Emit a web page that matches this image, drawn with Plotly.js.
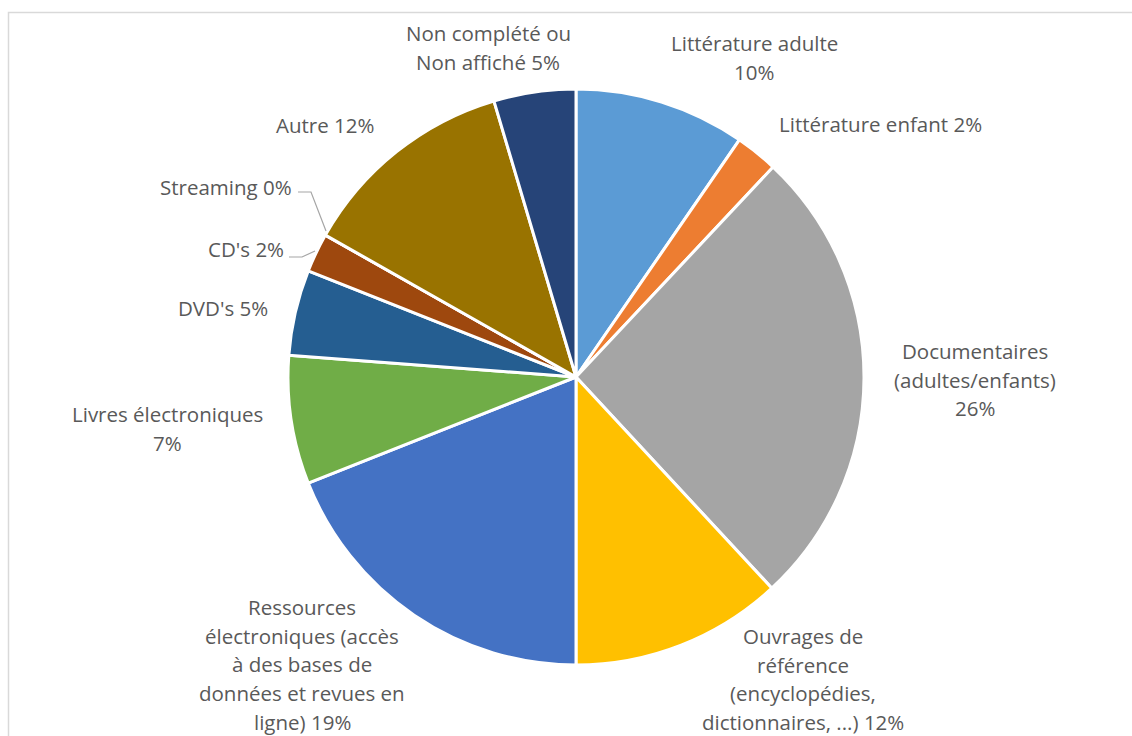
<!DOCTYPE html>
<html>
<head>
<meta charset="utf-8">
<script src="https://cdn.plot.ly/plotly-3.0.1.min.js"></script>
<style>html,body{margin:0;padding:0;background:#fff;}#chart{width:1132px;height:736px;}</style>
</head>
<body>
<div id="chart"></div>
<script>
// ---- data ----
var categories = [
  "Littérature adulte",
  "Littérature enfant",
  "Documentaires<br>(adultes/enfants)",
  "Ouvrages de<br>référence<br>(encyclopédies,<br>dictionnaires, ...)",
  "Ressources<br>électroniques (accès<br>à des bases de<br>données et revues en<br>ligne)",
  "Livres électroniques",
  "DVD's",
  "CD's",
  "Streaming",
  "Autre",
  "Non complété ou<br>Non affiché"
];
var values = [9.6, 2.4, 26.1, 11.9, 19.0, 7.2, 4.8, 2.2, 0.0, 12.2, 4.6];
var colors = ["#5B9BD5", "#ED7D31", "#A5A5A5", "#FFC000", "#4472C4", "#70AD47",
              "#255E91", "#9E480E", "#636363", "#997300", "#264478"];

// ---- layout helpers (label placement, px) ----
var W = 1132, H = 736;
var pctSep = ["<br>", " ", "<br>", " ", " ", "<br>", " ", " ", " ", " ", " "];
var labelX = [754, 880, 975, 803, 302, 167, 223, 246, 226, 325, 488];
var labelY = [43, 124, 351, 636, 607, 414, 308, 249, 187, 125, 33];
var lineGap = 28.7;

var total = values.reduce(function (a, b) { return a + b; }, 0);
var annotations = [];
categories.forEach(function (c, i) {
  var pct = Math.round(values[i] / total * 100);
  var text = c + pctSep[i] + pct + "%";
  var lines = text.split("<br>");
  lines.forEach(function (ln, k) {
    annotations.push({
      xref: "paper", yref: "paper",
      x: labelX[i] / W, y: 1 - (labelY[i] + k * lineGap) / H,
      xanchor: "center", yanchor: "middle",
      text: ln, showarrow: false,
      font: { family: "'Open Sans', Lato, sans-serif", size: 20.5, color: "#595959" }
    });
  });
});

function px(x, y) { return (x / W).toFixed(5) + "," + (1 - y / H).toFixed(5); }
var shapes = [
  { type: "rect", xref: "paper", yref: "paper",
    x0: 8.5 / W, x1: 1.05, y0: -0.05, y1: 1 - 12.5 / H,
    line: { color: "#D9D9D9", width: 1.5 }, fillcolor: "rgba(0,0,0,0)", layer: "below" },
  { type: "path", xref: "paper", yref: "paper",
    path: "M" + px(298, 192) + " L" + px(311, 192) + " L" + px(326, 231),
    line: { color: "#A6A6A6", width: 1.2 } },
  { type: "path", xref: "paper", yref: "paper",
    path: "M" + px(289, 257) + " L" + px(302, 257) + " L" + px(315, 251),
    line: { color: "#A6A6A6", width: 1.2 } }
];

var cx = 576, cy = 377, r = 288;
var trace = {
  type: "pie",
  labels: categories.map(function (c) { return c.replace(/<br>/g, " "); }),
  values: values,
  sort: false,
  direction: "clockwise",
  rotation: 0,
  textinfo: "none",
  hoverinfo: "label+percent",
  marker: { colors: colors, line: { color: "#FFFFFF", width: 3 } },
  domain: { x: [(cx - r) / W, (cx + r) / W], y: [(H - cy - r) / H, (H - cy + r) / H] },
  showlegend: false
};

var layout = {
  width: W, height: H,
  margin: { l: 0, r: 0, t: 0, b: 0 },
  paper_bgcolor: "#FFFFFF",
  showlegend: false,
  annotations: annotations,
  shapes: shapes
};

Plotly.newPlot("chart", [trace], layout, { displayModeBar: false, staticPlot: true });
</script>
</body>
</html>
